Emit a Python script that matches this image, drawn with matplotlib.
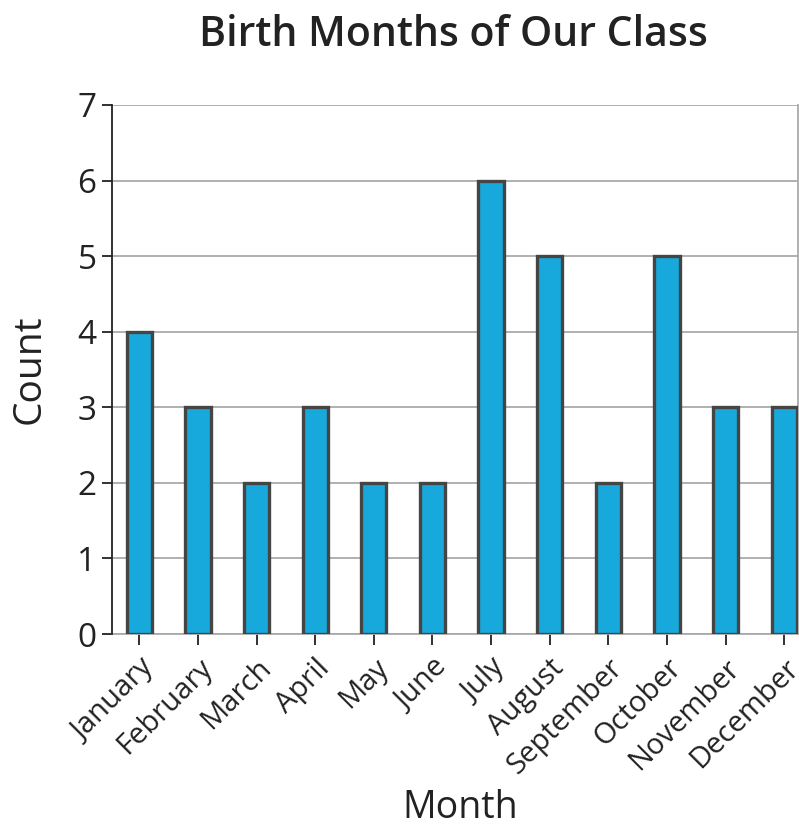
import matplotlib
matplotlib.use("Agg")
import matplotlib.pyplot as plt
import numpy as np

# === DATA ===
months = ["January", "February", "March", "April", "May", "June",
          "July", "August", "September", "October", "November", "December"]
counts = [4, 3, 2, 3, 2, 2, 6, 5, 2, 5, 3, 3]
yticks = [0, 1, 2, 3, 4, 5, 6, 7]

plt.rcParams["font.family"] = ["Open Sans", "DejaVu Sans"]

fig = plt.figure(figsize=(7.99, 8.26), dpi=100)
ax = fig.add_axes([0.140, 0.2324, 0.859, 0.6405])

x = np.arange(len(months))
ax.bar(x, counts, width=0.43, color="#18a9dc", edgecolor="#454545",
       linewidth=2.4, zorder=3)

# === Axis formatting ===
ax.set_xlim(-0.47, 11.24)
ax.set_ylim(0, 7)
ax.set_yticks(yticks)
ax.set_yticklabels([str(v) for v in yticks], fontsize=24, color="#222222")
ax.set_xticks(x)
ax.set_xticklabels(months, rotation=45, ha="right", rotation_mode="anchor",
                   fontsize=21, color="#222222")
ax.tick_params(axis="y", length=7, width=1.3, color="#222222", pad=4)
ax.tick_params(axis="x", length=8, width=1.3, color="#222222", pad=6)

ax.grid(axis="y", color="#aaaaaa", linewidth=1.3, zorder=0)
for side in ["top", "right", "bottom"]:
    ax.spines[side].set_color("#aaaaaa")
    ax.spines[side].set_linewidth(1.3)
ax.spines["top"].set_visible(False)
ax.spines["left"].set_color("#222222")
ax.spines["left"].set_linewidth(1.3)
ax.spines["left"].set_zorder(4)

ax.set_ylabel("Count", fontsize=28, color="#222222")
ax.yaxis.set_label_coords(-0.092, 0.5)
ax.set_xlabel("Month", fontsize=27, color="#222222")
ax.xaxis.set_label_coords(0.507, -0.293)
fig.suptitle("Birth Months of Our Class", fontsize=29.5, fontweight="semibold",
             x=0.568, y=0.983, va="top", color="#222222")

plt.savefig("out.png", dpi=100)
plt.close()
